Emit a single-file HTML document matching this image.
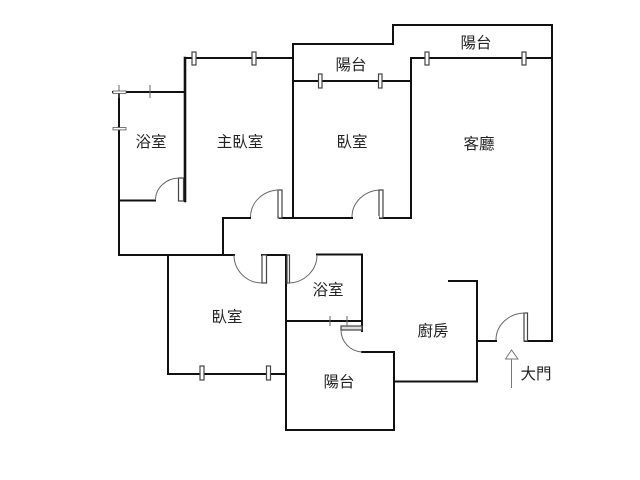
<!DOCTYPE html>
<html>
<head>
<meta charset="utf-8">
<style>
html,body{margin:0;padding:0;background:#fff;width:640px;height:480px;overflow:hidden}
svg{display:block;filter:blur(0.3px)}
text{font-family:"Liberation Sans","Noto Sans CJK TC",sans-serif;font-size:15.500px;fill:#222;text-anchor:middle}
</style>
</head>
<body>
<svg width="640" height="480" viewBox="0 0 640 480" xmlns="http://www.w3.org/2000/svg">
<g fill="none" stroke="#111" stroke-width="2" stroke-linecap="square">
<path d="M113 92H185M185 58H293"/>
<path d="M185 58V201" stroke-width="2.600"/>
<path d="M119 92V255M119 200.500H155"/>
<path d="M119 255H234M223 218V255M223 218H250M280 218H411"/>
<path d="M293 44V218M293 44H393V25H552V341M293 81H411M411 58V218M411 58H552"/>
<path d="M168 255V374M168 374H286M262 255H286M286 255V430M286 430H394"/>
<path d="M317 254.500H362V331M286 321H362"/>
<path d="M362 352H394V430M394 381.500H477V281H449"/>
<path d="M477 341H496M525 341H552"/>
</g>
<g fill="#fff" stroke="#444" stroke-width="1.200">
<rect x="192" y="52" width="4" height="13"/>
<rect x="252" y="52" width="4" height="13"/>
<rect x="318.500" y="74" width="3.500" height="14"/>
<rect x="378.500" y="74" width="3.500" height="14"/>
<rect x="425" y="52" width="4" height="13"/>
<rect x="522" y="52" width="4" height="13"/>
<rect x="200" y="366" width="4" height="14"/>
<rect x="266.500" y="366" width="4" height="14"/>
<rect x="178.500" y="178" width="5" height="23"/>
<rect x="278" y="190" width="4" height="28"/>
<rect x="262" y="255" width="4.500" height="28"/>
<rect x="287" y="255" width="2.500" height="28"/>
<rect x="524" y="313" width="3.500" height="28"/>
<rect x="341" y="326" width="21" height="4" fill="#ddd"/>
</g>
<g fill="none" stroke="#666" stroke-width="1">
<path d="M155.500 200A24 22 0 0 1 179 178"/>
<path d="M250.500 217A29 27 0 0 1 279 190"/>
<path d="M352 217A29 27 0 0 1 381 190"/>
<path d="M234 255A28 28 0 0 0 262 283"/>
<path d="M288 283A29 28 0 0 0 317 255"/>
<path d="M341 330A22 22 0 0 0 362 352"/>
<path d="M496 340A29 27 0 0 1 525 313"/>
<path d="M119 85V98M150 85V98M330 316V326M347 316V326"/>
</g>
<rect x="113" y="91" width="13" height="2.400" fill="#fff" stroke="#555" stroke-width="0.800"/>
<rect x="113" y="127.500" width="13" height="2.400" fill="#fff" stroke="#555" stroke-width="0.800"/>
<rect x="379" y="190" width="4" height="28" fill="#fff" stroke="#444" stroke-width="1.200"/>
<rect x="353" y="216" width="26" height="4" fill="#fff"/>
<path d="M511.500 350L505.500 359H518ZM511.500 359V388" fill="#fff" stroke="#777" stroke-width="1"/>
<text x="151" y="147">浴室</text>
<text x="240" y="147">主臥室</text>
<text x="352" y="147">臥室</text>
<text x="479" y="149">客廳</text>
<text x="351" y="70">陽台</text>
<text x="476" y="48">陽台</text>
<text x="328" y="295">浴室</text>
<text x="227" y="322">臥室</text>
<text x="339" y="387">陽台</text>
<text x="433" y="336">廚房</text>
<text x="536" y="379">大門</text>
</svg>
</body>
</html>
